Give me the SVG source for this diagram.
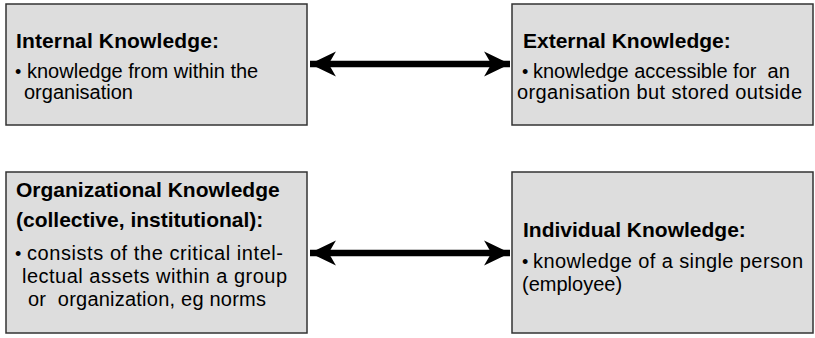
<svg xmlns="http://www.w3.org/2000/svg" width="815" height="338" viewBox="0 0 815 338">
<style>
.box{fill:#dddddd;stroke:#333333;stroke-width:1.5}
.t{font-family:"Liberation Sans",Arial,sans-serif;font-weight:bold;font-size:21px;fill:#000}
.b{font-family:"Liberation Sans",Arial,sans-serif;font-size:20px;fill:#000}
.d{font-family:"Liberation Sans",Arial,sans-serif;font-size:18px;fill:#000}
.conn{stroke:#000;stroke-width:6.5;fill:none;marker-start:url(#ah);marker-end:url(#ah)}
</style>
<defs>
<marker id="ah" markerUnits="userSpaceOnUse" markerWidth="28" markerHeight="28" viewBox="-26 -13 27 26" refX="0" refY="0" orient="auto-start-reverse">
<path d="M0,0 L-25,-12 L-18,0 L-25,12 Z" fill="#000"/>
</marker>
</defs>
<g id="internal">
<rect class="box" x="6" y="4" width="301" height="121"/>
<text class="t" x="16" y="48" textLength="203">Internal Knowledge:</text>
<text class="d" x="15" y="78">•</text>
<text class="b" x="27" y="78">knowledge from within the</text>
<text class="b" x="24" y="99">organisation</text>
</g>
<g id="external">
<rect class="box" x="512" y="4" width="301" height="121"/>
<text class="t" x="523" y="48">External Knowledge:</text>
<text class="d" x="522" y="78">•</text>
<text class="b" x="533" y="78" xml:space="preserve">knowledge accessible for  an</text>
<text class="b" x="517" y="99" textLength="285">organisation but stored outside</text>
</g>
<g id="organizational">
<rect class="box" x="6" y="172" width="301" height="161"/>
<text class="t" x="16" y="197">Organizational Knowledge</text>
<text class="t" x="16" y="227">(collective, institutional):</text>
<text class="d" x="15" y="260">•</text>
<text class="b" x="27" y="260" textLength="256">consists of the critical intel-</text>
<text class="b" x="22" y="283" textLength="265">lectual assets within a group</text>
<text class="b" x="28" y="306" textLength="238" xml:space="preserve">or  organization, eg norms</text>
</g>
<g id="individual">
<rect class="box" x="512" y="172" width="301" height="161"/>
<text class="t" x="523" y="237">Individual Knowledge:</text>
<text class="d" x="522" y="268">•</text>
<text class="b" x="533" y="268" textLength="270">knowledge of a single person</text>
<text class="b" x="522" y="291">(employee)</text>
</g>
<g id="connectors">
<path class="conn" d="M310,64 L510,64"/>
<path class="conn" d="M310,253 L510,253"/>
</g>
</svg>
